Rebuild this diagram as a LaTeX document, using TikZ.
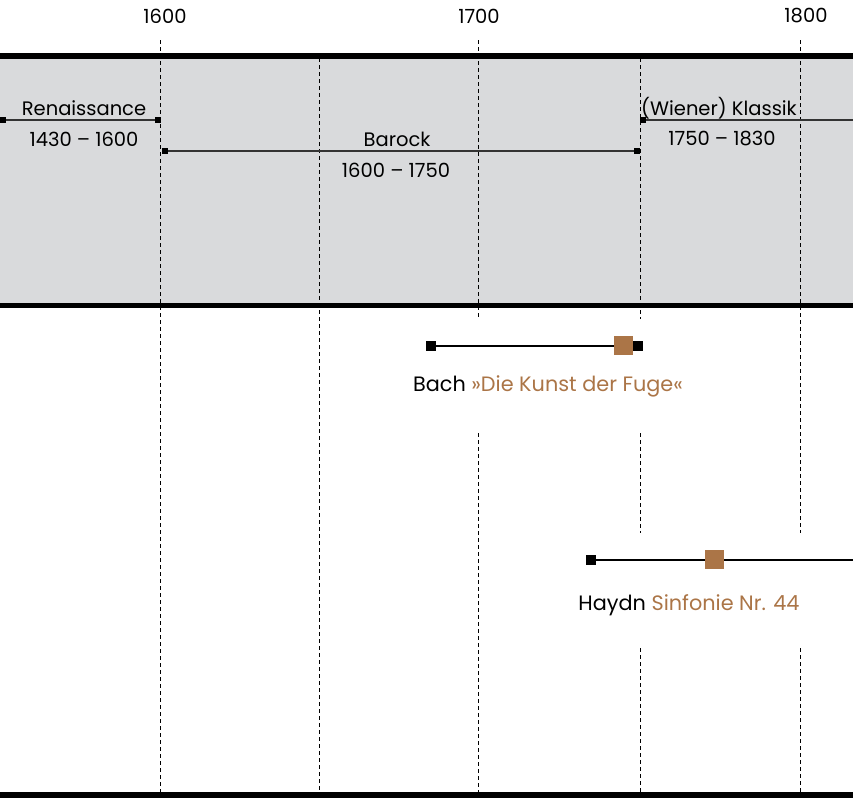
\documentclass[tikz,border=0pt]{standalone}
\usepackage{fontspec}
\setmainfont{Poppins}
\definecolor{band}{HTML}{D9DADC}
\definecolor{work}{HTML}{AB7547}
\begin{document}
\begin{tikzpicture}[x=1pt,y=-1pt,
  rule/.style={line width=6pt},
  gridline/.style={line width=1.4pt, dash pattern=on 4pt off 3pt},
  period/.style={line width=1.5pt, draw=black!80},
  life/.style={line width=2.6pt, draw=black},
  endsq/.style={fill=black, minimum size=6pt, inner sep=0pt},
  lifesq/.style={fill=black, minimum size=10pt, inner sep=0pt},
  worksq/.style={fill=work, minimum size=19pt, inner sep=0pt},
  lbl/.style={font=\fontsize{19.5}{23}\selectfont, inner sep=0pt, text=black},
  itemlbl/.style={font=\fontsize{20.8}{24}\selectfont, inner sep=0pt, text=black}]
\useasboundingbox (0,0) rectangle (853,798);
\fill[band] (0,58) rectangle (853,303);
% grid lines
\draw[gridline] (160.5,40) -- (160.5,798);
\draw[gridline] (319.5,58) -- (319.5,798);
\draw[gridline] (478.5,40) -- (478.5,319);
\draw[gridline] (478.5,433) -- (478.5,798);
\draw[gridline] (640.5,58) -- (640.5,319);
\draw[gridline] (640.5,433) -- (640.5,533);
\draw[gridline] (640.5,648) -- (640.5,798);
\draw[gridline] (800.5,40) -- (800.5,533);
\draw[gridline] (800.5,648) -- (800.5,798);
% rules
\draw[rule] (0,55.5) -- (853,55.5);
\draw[rule, line width=4.5pt] (0,305.5) -- (853,305.5);
\draw[rule] (0,795) -- (853,795);
% year labels
\node[lbl] (y1600) at (165,16) {1600};
\node[lbl] (y1700) at (479,16) {1700};
\node[lbl] (y1800) at (806,16) {1800};
% Renaissance
\node[endsq] (rena) at (3,120) {};
\node[endsq] (renb) at (158,120) {};
\draw[period] (rena) -- (renb);
\node[lbl] (rent) at (84,108) {Renaissance};
\node[lbl] (reny) at (84,139) {1430 – 1600};
% Barock
\node[endsq] (bara) at (165,151) {};
\node[endsq] (barb) at (637,151) {};
\draw[period] (bara) -- (barb);
\node[lbl] (bart) at (397,139) {Barock};
\node[lbl] (bary) at (396,170) {1600 – 1750};
% Klassik
\node[endsq] (klaa) at (643,120) {};
\coordinate (klab) at (853,120);
\draw[period] (klaa) -- (klab);
\node[lbl] (klat) at (719,108) {(Wiener) Klassik};
\node[lbl] (klay) at (722,139) {1750 – 1830};
% Bach
\node[lifesq] (bacha) at (431,346) {};
\node[lifesq] (bachb) at (637.5,346) {};
\draw[life] (bacha) -- (bachb);
\node[worksq] (bachw) at (623.5,345.5) {};
\node[itemlbl] (bacht) at (548,386) {Bach \textcolor{work}{»Die Kunst der Fuge«}};
% Haydn
\node[lifesq] (haya) at (591,560) {};
\coordinate (hayb) at (853,560);
\draw[life] (haya) -- (hayb);
\node[worksq] (hayw) at (714.5,559.5) {};
\node[itemlbl] (hayt) at (689,605) {Haydn \textcolor{work}{Sinfonie Nr. 44}};
\end{tikzpicture}
\end{document}
